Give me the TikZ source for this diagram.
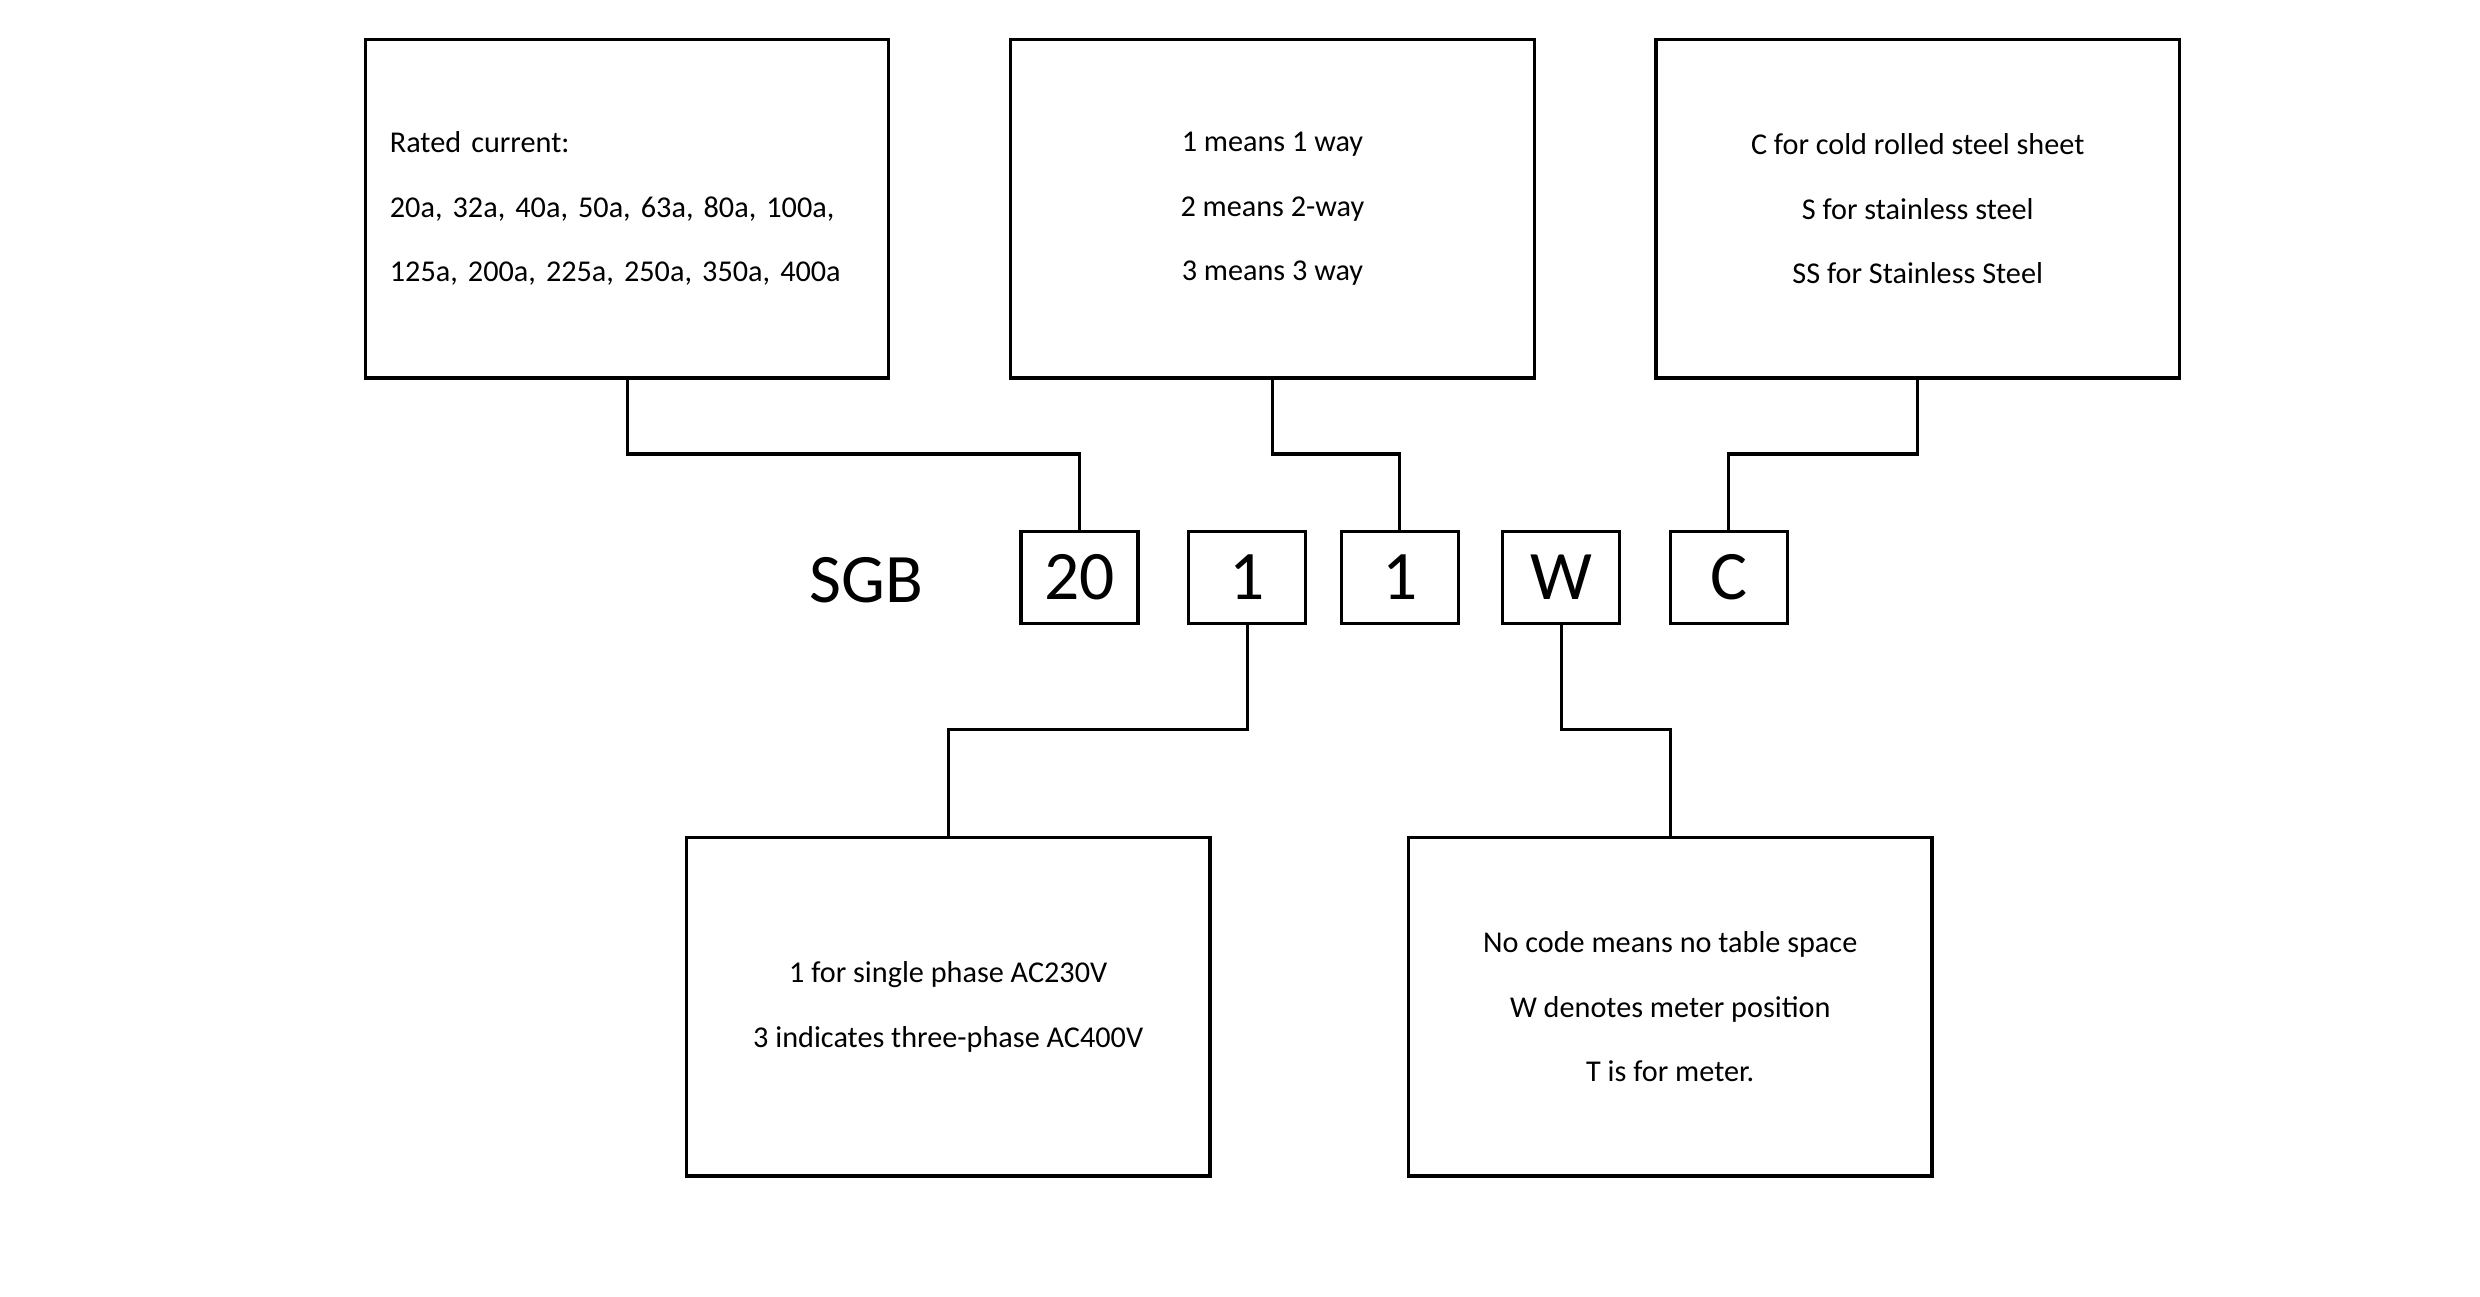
\documentclass[tikz,border=0pt]{standalone}
\usepackage{fontspec}
\setmainfont{Carlito}
\usetikzlibrary{positioning}
\begin{document}
\begin{tikzpicture}[x=0.16mm, y=-0.16mm, line width=0.9pt,
	infobox/.style = {draw=black, inner sep=0pt, minimum width=331*0.16mm,
		minimum height=214*0.16mm, font=\fontsize{8.7}{18.6}\selectfont},
	codebox/.style = {draw=black, inner sep=0pt, minimum width=74*0.16mm,
		minimum height=58*0.16mm, font=\fontsize{20}{24}\selectfont}]
	\useasboundingbox (0,0) rectangle (1568,820);
	
	% top layer: description boxes
	\node (rated) [infobox, align=left, text width=300*0.16mm] at (396.5,132) {Rated current:\\20a, 32a, 40a, 50a, 63a, 80a, 100a,\\125a, 200a, 225a, 250a, 350a, 400a};
	\node (ways)  [infobox, align=center] at (804.5,132) {1 means 1 way\\2 means 2-way\\3 means 3 way};
	\node (steel) [infobox, align=center] at (1212.5,132) {C for cold rolled steel sheet\\S for stainless steel\\SS for Stainless Steel};
	
	% middle layer: code letters
	\node (sgb) [font=\fontsize{20}{24}\selectfont] at (548,367) {SGB};
	\node (cCur)   [codebox] at (682.5,365) {20};
	\node (cPhase) [codebox] at (788.5,365) {1};
	\node (cWay)   [codebox] at (885,365)   {1};
	\node (cMeter) [codebox] at (987,365)   {W};
	\node (cSteel) [codebox] at (1093,365)  {C};
	
	% bottom layer: description boxes
	\node (phase) [infobox, align=center] at (599.5,636.5) {1 for single phase AC230V\\3 indicates three-phase AC400V};
	\node (meter) [infobox, align=center] at (1056,636.5) {No code means no table space\\W denotes meter position\\T is for meter.};
	
	% connections
	\coordinate (kRated) at (396.5,287);
	\coordinate (kWays)  at (804.5,287);
	\coordinate (kSteel) at (1212.5,287);
	\coordinate (kPhase) at (788.5,461);
	\coordinate (kMeter) at (987,461);
	\draw (rated.south) -- (kRated) -| (cCur.north);
	\draw (ways.south)  -- (kWays)  -| (cWay.north);
	\draw (steel.south) -- (kSteel) -| (cSteel.north);
	\draw (cPhase.south) -- (kPhase) -| (phase.north);
	\draw (cMeter.south) -- (kMeter) -| (meter.north);
\end{tikzpicture}
\end{document}
